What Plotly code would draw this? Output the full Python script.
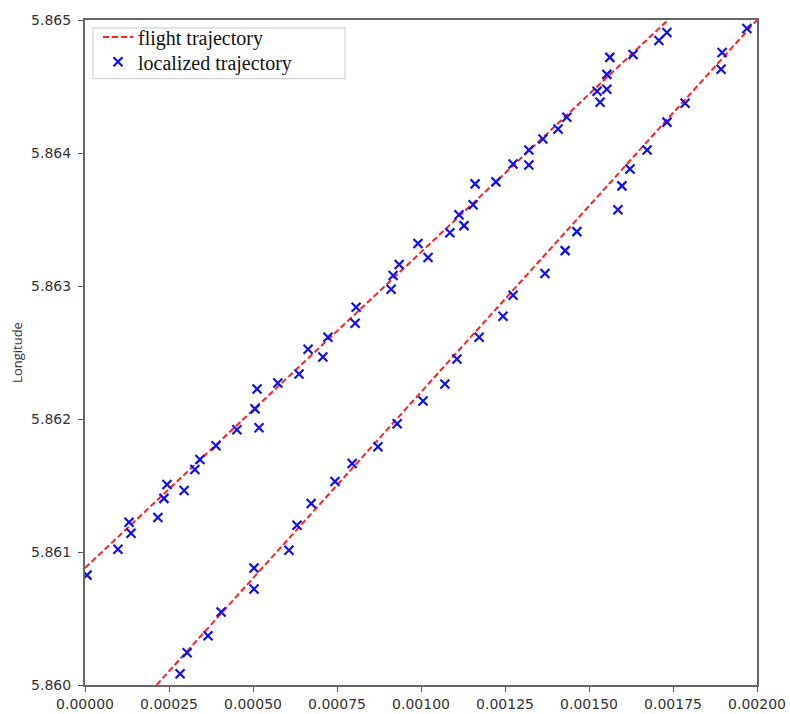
import plotly.graph_objects as go

# Flight trajectory (two straight segments), data units
flight_x = [0.0, 0.001735, None, 0.000213, 0.002]
flight_y = [5.86088, 5.865, None, 5.860, 5.865]

# Localized trajectory points
upper_x = [0.000006, 0.000098, 0.000131, 0.000137, 0.000217, 0.000235, 0.000244, 0.000295,
           0.000327, 0.000342, 0.000390, 0.000452, 0.000506, 0.000512, 0.000518, 0.000574,
           0.000637, 0.000664, 0.000708, 0.000723, 0.000807, 0.000804, 0.000911, 0.000917,
           0.000935, 0.000991, 0.001021, 0.001086, 0.001113, 0.001128, 0.001155, 0.001161,
           0.001223, 0.001274, 0.001321, 0.001321, 0.001363, 0.001408, 0.001434, 0.001524,
           0.001533, 0.001553, 0.001553, 0.001562, 0.001631, 0.001708, 0.001732]
upper_y = [5.860826, 5.861021, 5.861223, 5.861141, 5.861260, 5.861403, 5.861507, 5.861463,
           5.861620, 5.861695, 5.861799, 5.861919, 5.862076, 5.862226, 5.861934, 5.862271,
           5.862338, 5.862525, 5.862466, 5.862615, 5.862840, 5.862720, 5.862975, 5.863079,
           5.863162, 5.863319, 5.863214, 5.863401, 5.863536, 5.863454, 5.863611, 5.863768,
           5.863783, 5.863918, 5.864022, 5.863910, 5.864105, 5.864180, 5.864269, 5.864464,
           5.864382, 5.864479, 5.864591, 5.864719, 5.864741, 5.864846, 5.864906]
lower_x = [0.000283, 0.000304, 0.000366, 0.000405, 0.000503, 0.000503, 0.000607, 0.000631,
           0.000673, 0.000744, 0.000795, 0.000872, 0.000929, 0.001006, 0.001071, 0.001107,
           0.001173, 0.001244, 0.001274, 0.001369, 0.001429, 0.001464, 0.001586, 0.001598,
           0.001622, 0.001673, 0.001732, 0.001786, 0.001893, 0.001896, 0.001970]
lower_y = [5.860085, 5.860242, 5.860370, 5.860549, 5.860879, 5.860722, 5.861013, 5.861201,
           5.861365, 5.861530, 5.861665, 5.861792, 5.861964, 5.862136, 5.862263, 5.862451,
           5.862615, 5.862772, 5.862930, 5.863094, 5.863266, 5.863409, 5.863573, 5.863753,
           5.863880, 5.864022, 5.864232, 5.864374, 5.864629, 5.864756, 5.864936]

loc_x = upper_x + lower_x
loc_y = upper_y + lower_y

x_ticks = [0.0, 0.00025, 0.0005, 0.00075, 0.001, 0.00125, 0.0015, 0.00175, 0.002]
y_ticks = [5.860, 5.861, 5.862, 5.863, 5.864, 5.865]

W, H = 790, 714
ML, MR, MT, MB = 85, 33, 16, 29
PW, PH = W - ML - MR, H - MT - MB


def px_x(p):
    return (p - ML) / PW


def px_y(p):
    return 1 - (p - MT) / PH


fig = go.Figure()
fig.add_trace(go.Scatter(
    x=flight_x, y=flight_y, mode="lines", name="flight trajectory",
    line=dict(color="#ff2020", width=2, dash="6px,3px"), connectgaps=False,
    legend="legend", showlegend=True,
))
fig.add_trace(go.Scatter(
    x=loc_x, y=loc_y, mode="markers", name="localized trajectory",
    marker=dict(symbol="x-thin", size=9, line=dict(color="#1010ee", width=2.2), color="#1010ee"),
    legend="legend2", showlegend=True,
))

axis_common = dict(
    showgrid=False, zeroline=False, showline=True, linecolor="#666", linewidth=2,
    mirror=True, ticks="outside", ticklen=5, tickcolor="#555",
    tickfont=dict(family="DejaVu Sans", size=14, color="#333"),
)
fig.update_xaxes(range=[0, 0.002], tickvals=x_ticks, automargin=False,
                 ticktext=[f"{v:.5f}" for v in x_ticks], **axis_common)
fig.update_yaxes(range=[5.860, 5.865], tickvals=y_ticks, automargin=True,
                 ticktext=[f"{v:.3f}" for v in y_ticks], ticklabelstandoff=4,
                 title=dict(text="Longitude", font=dict(family="Open Sans", size=13, color="#333"),
                            standoff=6),
                 **axis_common)

leg_common = dict(
    xanchor="left", yanchor="middle", visible=True,
    font=dict(family="Liberation Serif", size=20, color="#111"),
    bgcolor="rgba(0,0,0,0)", borderwidth=0, itemwidth=30,
)

fig.update_layout(
    width=W, height=H,
    margin=dict(l=ML, r=MR, t=MT, b=MB),
    plot_bgcolor="white", paper_bgcolor="white",
    showlegend=True,
    legend=dict(x=px_x(98), y=px_y(33), **leg_common),
    legend2=dict(x=px_x(98), y=px_y(58), **leg_common),
    shapes=[dict(type="rect", xref="paper", yref="paper",
                 x0=px_x(93), x1=px_x(345), y0=px_y(75), y1=px_y(24),
                 line=dict(color="#d4d4d4", width=1.2), fillcolor="white", layer="below")],
)

fig.write_html("out.html", config={"displayModeBar": False},
               post_script="document.body.style.margin='0px';")
